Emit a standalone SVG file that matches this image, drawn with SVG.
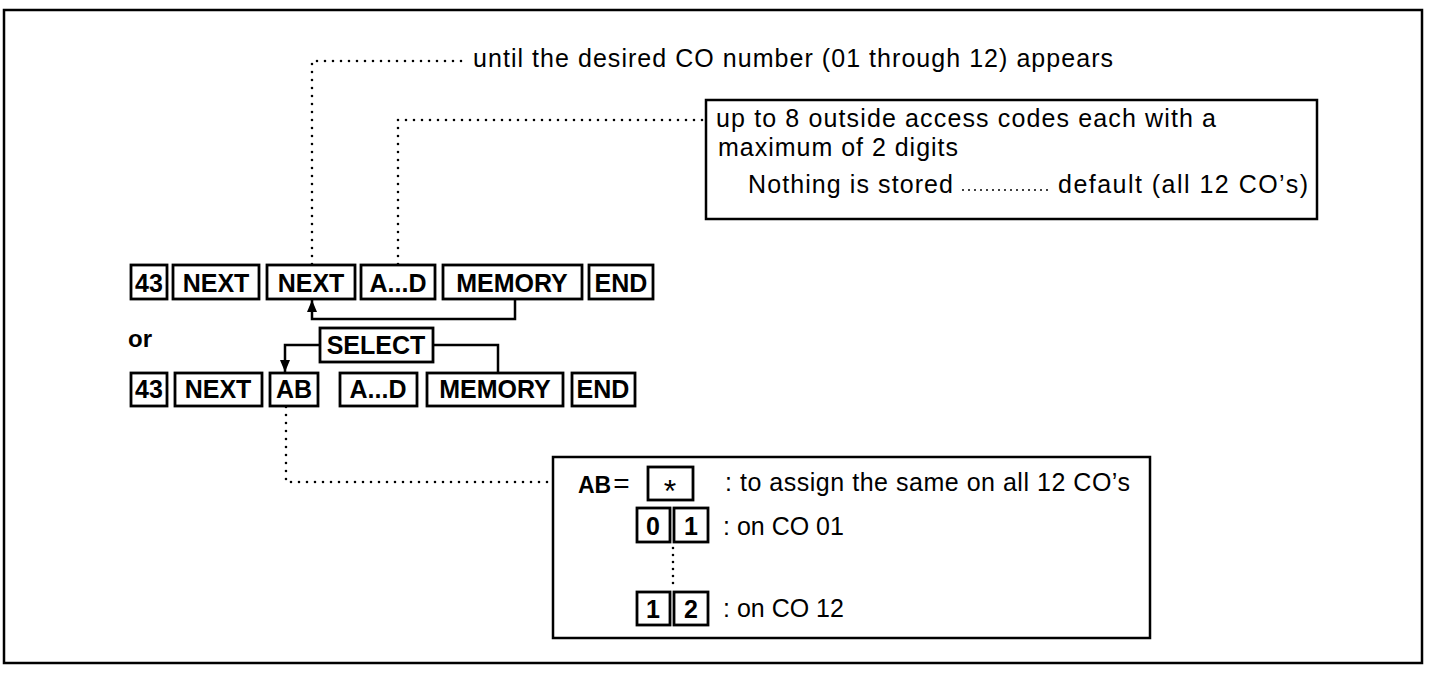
<svg xmlns="http://www.w3.org/2000/svg" width="1429" height="677" viewBox="0 0 1429 677">
<defs>
<style>
.frame{fill:none;stroke:#000;stroke-width:2.5}
.box{fill:#fff;stroke:#000;stroke-width:2.5}
.key{fill:#fff;stroke:#000;stroke-width:2.8}
.kt{font-family:"Liberation Sans",Arial,sans-serif;font-weight:bold;font-size:25px;fill:#000;text-anchor:middle}
.t{font-family:"Liberation Sans",Arial,sans-serif;font-size:25px;fill:#000}
.tb{font-family:"Liberation Sans",Arial,sans-serif;font-weight:bold;fill:#000}
.solid{fill:none;stroke:#000;stroke-width:2.5}
.dot{fill:none;stroke:#000;stroke-width:2.6;stroke-linecap:round;stroke-dasharray:0 8}
.lead{fill:none;stroke:#000;stroke-width:2;stroke-linecap:round;stroke-dasharray:0 6}
</style>
<marker id="arr" viewBox="0 0 12 10" refX="12" refY="5" markerWidth="12" markerHeight="10" markerUnits="userSpaceOnUse" orient="auto">
<path d="M0,0 L12,5 L0,10 Z" fill="#000"/>
</marker>
</defs>
<rect width="1429" height="677" fill="#fff"/>
<rect class="frame" x="4" y="10" width="1418" height="653"/>

<g id="connectors">
<path class="dot" d="M312,264 V61 H466"/>
<path class="dot" d="M398,264 V120 H704"/>
<path class="dot" d="M286,407 V482 H551"/>
<path class="solid" d="M515,300 V319 H312 V300" marker-end="url(#arr)"/>
<path class="solid" d="M320,345 H285 V372" marker-end="url(#arr)"/>
<path class="solid" d="M433,345 H498 V373"/>
</g>

<g id="label-until"><text class="t" x="473" y="67" textLength="640" lengthAdjust="spacing">until the desired CO number (01 through 12) appears</text></g>

<g id="note-top">
<rect class="box" x="706" y="100" width="611" height="119"/>
<text class="t" x="716" y="127" textLength="500" lengthAdjust="spacing">up to 8 outside access codes each with a</text>
<text class="t" x="718" y="156" textLength="240" lengthAdjust="spacing">maximum of 2 digits</text>
<text class="t" x="748" y="193" textLength="205" lengthAdjust="spacing">Nothing is stored</text>
<path class="lead" d="M963,190 H1048"/>
<text class="t" x="1058" y="193" textLength="250" lengthAdjust="spacing">default (all 12 CO’s)</text>
</g>

<g id="row1">
<g id="r1-43"><rect class="key" x="131" y="265" width="36" height="34"/><text class="kt" x="149" y="292">43</text></g>
<g id="r1-next1"><rect class="key" x="173" y="265" width="86" height="34"/><text class="kt" x="216" y="292">NEXT</text></g>
<g id="r1-next2"><rect class="key" x="267" y="265" width="88" height="34"/><text class="kt" x="311" y="292">NEXT</text></g>
<g id="r1-ad"><rect class="key" x="361" y="265" width="74" height="34"/><text class="kt" x="398" y="292">A...D</text></g>
<g id="r1-memory"><rect class="key" x="443" y="265" width="139" height="34"/><text class="kt" x="512" y="292">MEMORY</text></g>
<g id="r1-end"><rect class="key" x="589" y="265" width="64" height="34"/><text class="kt" x="621" y="292">END</text></g>
</g>

<g id="or"><text class="tb" x="128" y="347" style="font-size:24px">or</text></g>

<g id="select"><rect class="key" x="320" y="328" width="113" height="34"/><text class="kt" x="376" y="354">SELECT</text></g>

<g id="row2">
<g id="r2-43"><rect class="key" x="131" y="373" width="36" height="33"/><text class="kt" x="149" y="398">43</text></g>
<g id="r2-next"><rect class="key" x="175" y="373" width="87" height="33"/><text class="kt" x="218" y="398">NEXT</text></g>
<g id="r2-ab"><rect class="key" x="270" y="373" width="48" height="33"/><text class="kt" x="294" y="398">AB</text></g>
<g id="r2-ad"><rect class="key" x="340" y="373" width="77" height="33"/><text class="kt" x="378" y="398">A...D</text></g>
<g id="r2-memory"><rect class="key" x="427" y="373" width="136" height="33"/><text class="kt" x="495" y="398">MEMORY</text></g>
<g id="r2-end"><rect class="key" x="572" y="373" width="63" height="33"/><text class="kt" x="603" y="398">END</text></g>
</g>

<g id="note-ab">
<rect class="box" x="553" y="457" width="597" height="181"/>
<text class="tb" x="578" y="493" style="font-size:23px">AB<tspan style="font-weight:normal;font-size:28px" dx="2">=</tspan></text>
<rect class="key" x="648" y="467" width="45" height="33"/><text class="t" x="670" y="502" style="font-size:32px;text-anchor:middle">*</text>
<text class="t" x="725" y="491" textLength="405" lengthAdjust="spacing">: to assign the same on all 12 CO’s</text>
<rect class="key" x="637" y="508" width="33" height="34"/><text class="kt" x="653" y="535">0</text>
<rect class="key" x="674" y="508" width="34" height="34"/><text class="kt" x="691" y="535">1</text>
<text class="t" x="723" y="535">: on CO 01</text>
<path class="dot" d="M673,548 V588" style="stroke-dasharray:0 7"/>
<rect class="key" x="637" y="592" width="33" height="33"/><text class="kt" x="653" y="618">1</text>
<rect class="key" x="674" y="592" width="34" height="33"/><text class="kt" x="691" y="618">2</text>
<text class="t" x="723" y="617">: on CO 12</text>
</g>
</svg>
